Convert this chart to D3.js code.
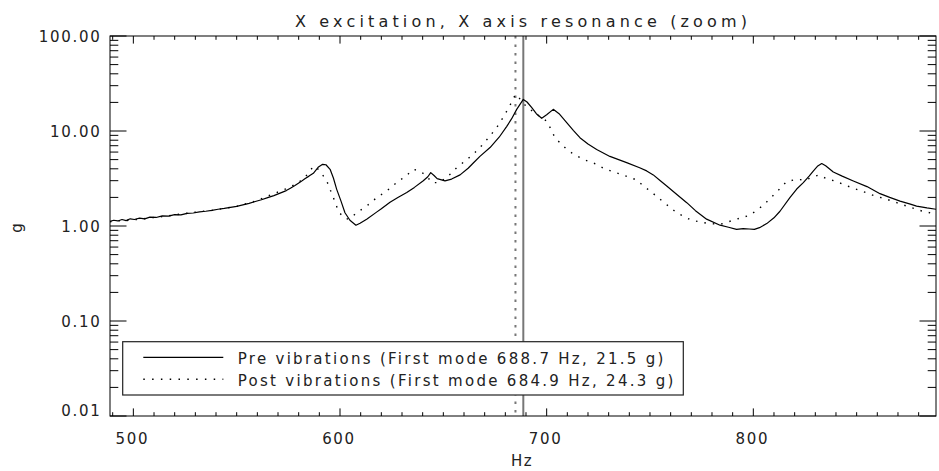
<!DOCTYPE html>
<html>
<head>
<meta charset="utf-8">
<script src="https://cdn.jsdelivr.net/npm/d3@7"></script>
<style>
  html, body { margin: 0; padding: 0; background: #fff; }
  svg { display: block; }
  text { font-family: "DejaVu Sans", sans-serif; fill: #222; }
</style>
</head>
<body>
<svg id="chart" width="939" height="471"></svg>
<script>
// ---- Data ----
const titleText = "X excitation, X axis resonance (zoom)";
const xLabel = "Hz";
const yLabel = "g";
const xDomain = [488.7, 888.4];
const yDomain = [0.01, 100];
const xMajorTicks = [500, 600, 700, 800];
const yMajorTicks = [0.01, 0.1, 1, 10, 100];

const preHz = [488.7,490.5,492.5,494.5,496.5,498.5,500.5,503,505.5,508,511,514,517,520,523,526,529,532,535,538,541,544,547,550,553,556,559,562,565,568,571,574,576,578,580.6,583,585,587.1,589.4,591.6,593.2,595.2,596.8,598.4,600.4,602.4,604.8,607.7,609.7,612.9,617.7,620,624.2,628,632.3,636,640.3,642.5,643.9,645.5,647,650.8,654,658.1,662,664.5,667.7,672.6,677,680.7,683,685.5,688.7,690.5,692.8,695,697.6,700,703.2,706,709.7,713,716.1,720,724.2,730.6,738.7,745,748.4,751.6,755,758.1,763,767.8,772,777.4,783.9,788,791.9,795.1,798,800.5,803,806.5,810,812.9,817.7,821,824.2,827,829,831,833.1,835,838.7,843,848.4,855,861.3,866,871,876,879,884,888.4];
const preG = [1.12,1.15,1.13,1.17,1.14,1.19,1.17,1.21,1.19,1.24,1.23,1.28,1.27,1.32,1.31,1.36,1.37,1.41,1.43,1.46,1.50,1.53,1.57,1.61,1.67,1.73,1.81,1.89,1.99,2.09,2.22,2.36,2.50,2.65,2.88,3.15,3.35,3.59,4.15,4.46,4.41,3.95,3.20,2.43,1.85,1.38,1.15,1.02,1.07,1.18,1.40,1.52,1.78,2.0,2.25,2.55,3.0,3.3,3.65,3.4,3.15,2.98,3.12,3.45,4.05,4.6,5.4,6.7,8.6,11.2,13.4,16.9,21.5,20.2,17.6,15.2,13.6,14.8,16.9,15.2,12.25,10.1,8.5,7.3,6.4,5.4,4.65,4.1,3.8,3.45,3.0,2.64,2.15,1.76,1.45,1.18,1.02,0.97,0.92,0.94,0.93,0.92,0.96,1.06,1.22,1.43,1.99,2.45,2.86,3.35,3.79,4.25,4.55,4.3,3.7,3.35,2.98,2.6,2.19,2.0,1.83,1.70,1.62,1.55,1.50];

const postHz = [488.7,492,496,500,504.7,510,515,520,526,532.3,538,544,550,553.1,558,564.5,570,575.8,580.6,583.5,586.3,587.9,590.3,592,593.6,595.2,596.8,599.2,601.6,604,606,608.1,612.9,617.8,622.6,627.4,632.3,635.5,638.7,642,644.4,647.6,651.6,656.5,660.5,664.5,668.5,672.6,677,680.7,683,684.9,686.5,689.5,692,694.5,697,700,702,704,707,709.7,713,717.7,724.2,728,736,743.6,746.8,750,756.5,762.9,770,777.4,783.9,791.9,798.4,804.8,811.3,816.1,821,825,828.5,831.5,835.5,840,846.8,852,858.1,864,869.4,875,881.5,888.4];
const postG = [1.11,1.13,1.14,1.16,1.19,1.23,1.26,1.31,1.36,1.42,1.46,1.53,1.61,1.68,1.80,2.04,2.28,2.56,2.95,3.35,4.02,4.28,3.77,3.35,2.98,2.43,1.99,1.44,1.23,1.18,1.26,1.38,1.62,1.99,2.34,2.86,3.42,3.95,3.79,3.36,2.86,2.86,3.23,4.12,4.83,5.69,7.0,8.86,11.8,16.2,20.0,24.3,22.5,18.8,16.9,15.3,14.1,12.7,10.5,8.52,7.3,6.42,5.7,5.04,4.46,4.0,3.5,3.05,2.64,2.34,1.79,1.38,1.15,1.07,1.04,1.18,1.30,1.65,2.28,2.93,3.10,3.05,3.25,3.44,3.15,2.95,2.57,2.35,2.10,1.93,1.76,1.60,1.44,1.33];

const legendLabels = ["Pre vibrations (First mode 688.7 Hz, 21.5 g)",
                      "Post vibrations (First mode 684.9 Hz, 24.3 g)"];
const modeHz = [688.7, 684.9];

// ---- Layout ----
const svg = d3.select("#chart");
const L = 110, R = 936, T = 36, B = 416;
const x = d3.scaleLinear().domain(xDomain).range([L, R]);
const y = d3.scaleLog().domain(yDomain).range([B, T]);

const xMinor = d3.range(490, 889, 10).filter(v => !xMajorTicks.includes(v));
const yMinor = [];
for (let e = -2; e < 2; e++) for (let m = 2; m <= 9; m++) yMinor.push(m * Math.pow(10, e));

const clip = svg.append("defs").append("clipPath").attr("id", "clip")
  .append("rect").attr("x", L).attr("y", T).attr("width", R - L).attr("height", B - T);

// vertical mode lines
const vg = svg.append("g").attr("clip-path", "url(#clip)");
vg.append("line").attr("x1", x(modeHz[0])).attr("x2", x(modeHz[0]))
  .attr("y1", T).attr("y2", B).attr("stroke", "#777").attr("stroke-width", 2);
vg.append("line").attr("x1", x(modeHz[1])).attr("x2", x(modeHz[1]))
  .attr("y1", T).attr("y2", B).attr("stroke", "#777").attr("stroke-width", 2)
  .attr("stroke-dasharray", "2.5,6");

// curves
const line = d3.line().x(d => x(d[0])).y(d => y(d[1]));
const pre = preHz.map((h, i) => [h, preG[i]]);
const post = postHz.map((h, i) => [h, postG[i]]);
const cg = svg.append("g").attr("clip-path", "url(#clip)");
cg.append("path").datum(pre).attr("d", line).attr("fill", "none")
  .attr("stroke", "#000").attr("stroke-width", 1.2).attr("stroke-linejoin", "round");
cg.append("path").datum(post).attr("d", line).attr("fill", "none")
  .attr("stroke", "#000").attr("stroke-width", 1.4).attr("stroke-dasharray", "1.5,7");

// frame
svg.append("rect").attr("x", L).attr("y", T).attr("width", R - L).attr("height", B - T)
  .attr("fill", "none").attr("stroke", "#000").attr("stroke-width", 1);

// ticks
const tk = svg.append("g").attr("stroke", "#000").attr("stroke-width", 1);
const xMajLen = 7.6, xMinLen = 3.8, yMajLen = 16.5, yMinLen = 8.3;
xMajorTicks.forEach(v => {
  tk.append("line").attr("x1", x(v)).attr("x2", x(v)).attr("y1", B).attr("y2", B - xMajLen);
  tk.append("line").attr("x1", x(v)).attr("x2", x(v)).attr("y1", T).attr("y2", T + xMajLen);
});
xMinor.forEach(v => {
  tk.append("line").attr("x1", x(v)).attr("x2", x(v)).attr("y1", B).attr("y2", B - xMinLen);
  tk.append("line").attr("x1", x(v)).attr("x2", x(v)).attr("y1", T).attr("y2", T + xMinLen);
});
yMajorTicks.forEach(v => {
  tk.append("line").attr("x1", L).attr("x2", L + yMajLen).attr("y1", y(v)).attr("y2", y(v));
  tk.append("line").attr("x1", R).attr("x2", R - yMajLen).attr("y1", y(v)).attr("y2", y(v));
});
yMinor.forEach(v => {
  tk.append("line").attr("x1", L).attr("x2", L + yMinLen).attr("y1", y(v)).attr("y2", y(v));
  tk.append("line").attr("x1", R).attr("x2", R - yMinLen).attr("y1", y(v)).attr("y2", y(v));
});

// tick labels
const fs = 15;
const fmtY = d3.format(".2f");
xMajorTicks.forEach(v => {
  svg.append("text").attr("x", x(v) - 1).attr("y", 444).attr("text-anchor", "middle")
    .attr("font-size", fs).attr("letter-spacing", "1.7px").text(String(v));
});
yMajorTicks.forEach(v => {
  const yy = v === yDomain[0] ? y(v) : y(v) + 6;
  svg.append("text").attr("x", 101.5).attr("y", yy).attr("text-anchor", "end")
    .attr("font-size", fs).attr("letter-spacing", "1.7px").text(fmtY(v));
});

// titles
svg.append("text").attr("x", 521).attr("y", 26.5).attr("text-anchor", "middle")
  .attr("font-size", 16).attr("textLength", 452).attr("lengthAdjust", "spacing").text(titleText);
svg.append("text").attr("x", 522).attr("y", 466).attr("text-anchor", "middle")
  .attr("font-size", fs).attr("letter-spacing", "1.5px").text(xLabel);
svg.append("text").attr("transform", "translate(22,228) rotate(-90)").attr("text-anchor", "middle")
  .attr("font-size", fs).text(yLabel);

// legend
const lg = svg.append("g");
lg.append("rect").attr("x", 122.7).attr("y", 341.7).attr("width", 683.3 - 122.7).attr("height", 395 - 341.7)
  .attr("fill", "#fff").attr("stroke", "#222").attr("stroke-width", 1.2);
const rows = [357.3, 379.3];
lg.append("line").attr("x1", 143.3).attr("x2", 223.3).attr("y1", rows[0]).attr("y2", rows[0])
  .attr("stroke", "#000").attr("stroke-width", 1.2);
lg.append("line").attr("x1", 143.3).attr("x2", 223.3).attr("y1", rows[1]).attr("y2", rows[1])
  .attr("stroke", "#000").attr("stroke-width", 1.4).attr("stroke-dasharray", "1.5,7.3");
const widths = [425.7, 435.7];
legendLabels.forEach((t, i) => {
  lg.append("text").attr("x", 237.7).attr("y", rows[i] + 6.3).attr("font-size", fs)
    .attr("textLength", widths[i]).attr("lengthAdjust", "spacing").text(t);
});
</script>
</body>
</html>
